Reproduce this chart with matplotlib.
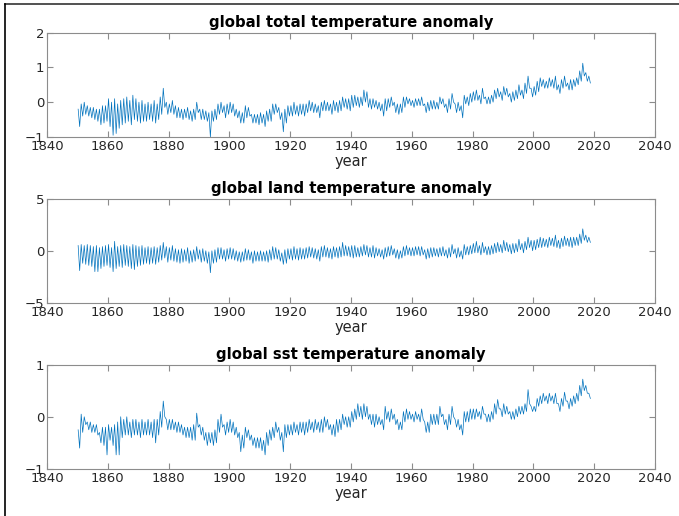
import numpy as np
import matplotlib.pyplot as plt
from matplotlib.lines import Line2D

plt.rcParams['font.family'] = ['DejaVu Sans']

# 年份 1850-2018，每年读取的上沿/下沿数值
years = np.arange(1850, 2019)

total_hi = [-0.2, -0.05, 0.0, -0.1, -0.15, -0.15, -0.2, -0.2, -0.1, -0.1,
            0.1, 0.0, 0.1, -0.05, 0.05, 0.1, 0.15, 0.05, 0.2, 0.1,
            0.0, 0.05, -0.05, 0.0, -0.05, 0.05, -0.05, 0.15, 0.4, 0.0,
            -0.05, 0.05, -0.1, -0.15, -0.2, -0.2, -0.15, -0.25, -0.2, 0.0,
            -0.2, -0.2, -0.25, -0.3, -0.25, -0.2, -0.05, 0.0, -0.1, -0.05,
            0.0, -0.05, -0.2, -0.25, -0.3, -0.1, -0.15, -0.35, -0.35, -0.35,
            -0.3, -0.35, -0.25, -0.2, -0.05, -0.05, -0.15, -0.3, -0.2, -0.1,
            -0.1, 0.0, -0.1, -0.05, -0.05, -0.05, 0.05, 0.0, -0.05, -0.1,
            0.0, 0.05, 0.0, -0.05, 0.05, 0.0, 0.05, 0.15, 0.1, 0.1,
            0.2, 0.2, 0.15, 0.15, 0.35, 0.3, 0.1, 0.1, 0.05, 0.0,
            -0.05, 0.1, 0.1, 0.15, 0.0, -0.05, -0.05, 0.15, 0.15, 0.1,
            0.05, 0.1, 0.1, 0.15, -0.05, 0.0, 0.05, 0.05, 0.0, 0.15,
            0.1, -0.05, 0.1, 0.25, -0.05, 0.0, -0.1, 0.2, 0.15, 0.25,
            0.3, 0.35, 0.2, 0.4, 0.15, 0.15, 0.2, 0.35, 0.4, 0.3,
            0.45, 0.4, 0.25, 0.3, 0.35, 0.5, 0.35, 0.55, 0.75, 0.4,
            0.45, 0.6, 0.7, 0.65, 0.6, 0.7, 0.65, 0.75, 0.5, 0.65,
            0.75, 0.55, 0.65, 0.65, 0.7, 0.9, 1.12, 0.85, 0.75]
total_lo = [-0.7, -0.4, -0.35, -0.4, -0.45, -0.5, -0.55, -0.65, -0.6, -0.55,
            -0.7, -0.95, -0.9, -0.75, -0.65, -0.6, -0.55, -0.65, -0.5, -0.55,
            -0.6, -0.55, -0.55, -0.5, -0.55, -0.6, -0.5, -0.35, -0.15, -0.35,
            -0.3, -0.35, -0.45, -0.45, -0.5, -0.45, -0.5, -0.55, -0.5, -0.3,
            -0.5, -0.5, -0.55, -1.0, -0.55, -0.5, -0.35, -0.3, -0.45, -0.35,
            -0.3, -0.4, -0.45, -0.6, -0.6, -0.45, -0.4, -0.6, -0.6, -0.65,
            -0.6, -0.7, -0.55, -0.55, -0.35, -0.3, -0.5, -0.85, -0.6, -0.4,
            -0.4, -0.35, -0.4, -0.35, -0.4, -0.3, -0.25, -0.3, -0.3, -0.45,
            -0.25, -0.25, -0.25, -0.35, -0.25, -0.3, -0.25, -0.15, -0.2, -0.25,
            -0.15, -0.1, -0.15, -0.1, 0.0, -0.15, -0.2, -0.15, -0.2, -0.25,
            -0.4, -0.25, -0.15, -0.1, -0.3, -0.35, -0.3, -0.15, -0.05, -0.1,
            -0.15, -0.1, -0.1, -0.1, -0.3, -0.25, -0.2, -0.2, -0.2, -0.05,
            -0.15, -0.3, -0.2, 0.0, -0.3, -0.25, -0.45, -0.05, -0.1, 0.0,
            0.05, 0.05, -0.05, 0.1, -0.05, -0.05, 0.0, 0.1, 0.15, 0.05,
            0.2, 0.15, 0.0, 0.05, 0.1, 0.2, 0.1, 0.25, 0.4, 0.15,
            0.2, 0.3, 0.45, 0.4, 0.4, 0.45, 0.4, 0.35, 0.25, 0.4,
            0.45, 0.35, 0.35, 0.45, 0.5, 0.6, 0.75, 0.6, 0.55]

land_hi = [0.5, 0.6, 0.5, 0.6, 0.5, 0.4, 0.5, 0.3, 0.4, 0.5,
           0.6, 0.3, 0.9, 0.4, 0.5, 0.6, 0.5, 0.4, 0.6, 0.5,
           0.4, 0.5, 0.3, 0.4, 0.3, 0.4, 0.3, 0.5, 0.8, 0.4,
           0.3, 0.5, 0.2, 0.1, 0.2, 0.1, 0.3, 0.0, 0.1, 0.4,
           0.1, 0.2, 0.0, -0.1, 0.0, 0.1, 0.3, 0.3, 0.1, 0.2,
           0.3, 0.2, 0.0, -0.1, -0.1, 0.2, 0.1, -0.1, 0.0, -0.1,
           0.0, -0.1, 0.0, 0.1, 0.4, 0.3, 0.1, -0.2, 0.1, 0.2,
           0.2, 0.4, 0.2, 0.3, 0.2, 0.3, 0.4, 0.3, 0.2, 0.1,
           0.4, 0.5, 0.3, 0.2, 0.4, 0.3, 0.4, 0.8, 0.5, 0.4,
           0.5, 0.5, 0.3, 0.4, 0.6, 0.5, 0.3, 0.5, 0.3, 0.2,
           0.1, 0.3, 0.4, 0.5, 0.2, 0.1, 0.0, 0.4, 0.5, 0.3,
           0.3, 0.4, 0.4, 0.4, 0.1, 0.2, 0.3, 0.3, 0.2, 0.3,
           0.4, 0.1, 0.3, 0.6, 0.2, 0.3, 0.0, 0.6, 0.4, 0.5,
           0.7, 0.9, 0.5, 0.8, 0.4, 0.4, 0.5, 0.7, 0.8, 0.6,
           1.0, 0.8, 0.6, 0.7, 0.7, 1.1, 0.7, 0.9, 1.3, 1.0,
           1.0, 1.1, 1.3, 1.2, 1.1, 1.3, 1.2, 1.5, 1.0, 1.2,
           1.4, 1.2, 1.3, 1.3, 1.3, 1.6, 2.1, 1.5, 1.3]
land_lo = [-1.9, -1.2, -1.3, -1.4, -1.5, -2.0, -2.0, -1.7, -1.5, -1.4,
           -1.6, -2.0, -1.7, -1.5, -1.6, -1.4, -1.5, -1.7, -1.8, -1.5,
           -1.4, -1.3, -1.2, -1.3, -1.2, -1.3, -1.1, -0.9, -0.7, -1.1,
           -0.9, -1.0, -1.1, -1.2, -1.1, -1.0, -1.2, -1.1, -1.0, -0.8,
           -1.1, -1.0, -1.2, -2.1, -1.2, -1.1, -0.8, -0.8, -1.0, -0.8,
           -0.8, -0.9, -1.0, -1.1, -1.0, -0.9, -0.9, -1.2, -1.0, -1.0,
           -1.0, -1.0, -1.1, -0.9, -0.8, -0.8, -1.0, -1.3, -1.2, -0.8,
           -0.9, -0.8, -0.9, -0.8, -0.8, -0.7, -0.6, -0.7, -0.8, -1.0,
           -0.6, -0.6, -0.7, -0.8, -0.6, -0.7, -0.6, -0.5, -0.5, -0.6,
           -0.7, -0.6, -0.6, -0.5, -0.4, -0.6, -0.6, -0.7, -0.5, -0.6,
           -0.8, -0.6, -0.5, -0.4, -0.7, -0.8, -0.7, -0.5, -0.4, -0.5,
           -0.5, -0.4, -0.5, -0.4, -0.8, -0.7, -0.6, -0.5, -0.6, -0.5,
           -0.5, -0.7, -0.6, -0.3, -0.7, -0.6, -0.8, -0.4, -0.4, -0.3,
           -0.2, -0.2, -0.4, -0.2, -0.4, -0.4, -0.3, -0.2, -0.1, -0.2,
           0.0, -0.1, -0.3, -0.2, -0.1, 0.1, -0.2, 0.1, 0.3, 0.0,
           0.1, 0.3, 0.3, 0.4, 0.3, 0.5, 0.4, 0.3, 0.2, 0.4,
           0.5, 0.4, 0.3, 0.5, 0.5, 0.7, 1.0, 0.8, 0.8]

sst_hi = [-0.25, 0.05, 0.0, -0.1, -0.1, -0.15, -0.15, -0.3, -0.2, -0.2,
          -0.15, -0.2, -0.15, -0.1, 0.0, -0.05, 0.0, -0.1, -0.05, -0.05,
          -0.1, -0.05, -0.1, -0.05, -0.1, -0.05, -0.05, 0.1, 0.3, -0.05,
          -0.05, -0.05, -0.1, -0.1, -0.15, -0.2, -0.2, -0.2, -0.15, 0.07,
          -0.15, -0.2, -0.3, -0.3, -0.3, -0.25, -0.05, 0.05, -0.15, -0.1,
          -0.05, -0.1, -0.2, -0.3, -0.35, -0.2, -0.25, -0.35, -0.4, -0.4,
          -0.4, -0.45, -0.3, -0.25, -0.2, -0.1, -0.2, -0.3, -0.15, -0.15,
          -0.15, -0.1, -0.15, -0.1, -0.1, -0.1, -0.05, -0.1, -0.05, -0.1,
          -0.05, 0.0, -0.05, -0.15, -0.15, -0.05, -0.05, 0.05, 0.0, 0.0,
          0.1, 0.15, 0.25, 0.2, 0.25, 0.2, 0.05, 0.05, 0.05, 0.0,
          -0.05, 0.2, 0.1, 0.15, 0.05, -0.05, -0.1, 0.1, 0.15, 0.1,
          0.05, 0.1, 0.05, 0.15, -0.1, -0.1, 0.05, 0.05, 0.05, 0.2,
          0.05, -0.05, 0.05, 0.2, -0.05, -0.05, -0.15, 0.1, 0.1, 0.15,
          0.15, 0.15, 0.1, 0.2, 0.05, 0.05, 0.1, 0.25, 0.33, 0.15,
          0.25, 0.2, 0.1, 0.1, 0.15, 0.2, 0.2, 0.25, 0.52, 0.2,
          0.2, 0.35, 0.4, 0.45, 0.4, 0.45, 0.4, 0.45, 0.25, 0.35,
          0.47, 0.3, 0.35, 0.4, 0.45, 0.6, 0.72, 0.6, 0.45]
sst_lo = [-0.6, -0.3, -0.15, -0.25, -0.3, -0.3, -0.35, -0.5, -0.55, -0.73,
          -0.45, -0.55, -0.73, -0.73, -0.4, -0.35, -0.35, -0.4, -0.35, -0.35,
          -0.4, -0.35, -0.35, -0.35, -0.4, -0.5, -0.35, -0.2, 0.0, -0.25,
          -0.25, -0.25, -0.3, -0.3, -0.35, -0.4, -0.4, -0.45, -0.45, -0.2,
          -0.35, -0.45, -0.55, -0.5, -0.55, -0.5, -0.3, -0.2, -0.35, -0.3,
          -0.3, -0.35, -0.4, -0.67, -0.6, -0.4, -0.45, -0.55, -0.6, -0.6,
          -0.65, -0.73, -0.55, -0.45, -0.4, -0.3, -0.45, -0.67, -0.4, -0.35,
          -0.35, -0.3, -0.35, -0.3, -0.35, -0.3, -0.25, -0.3, -0.25, -0.3,
          -0.3, -0.2, -0.25, -0.35, -0.38, -0.3, -0.25, -0.15, -0.2, -0.2,
          -0.1, -0.05, 0.0, -0.05, 0.0, -0.05, -0.15, -0.2, -0.15, -0.15,
          -0.25, -0.05, -0.1, -0.05, -0.15, -0.25, -0.25, -0.1, -0.05, -0.05,
          -0.1, -0.05, -0.1, -0.05, -0.3, -0.3, -0.15, -0.15, -0.15, 0.0,
          -0.15, -0.25, -0.15, 0.0, -0.2, -0.25, -0.35, -0.1, -0.1, -0.05,
          -0.05, 0.0, -0.05, 0.05, -0.1, -0.1, -0.05, 0.05, 0.15, 0.0,
          0.05, 0.05, -0.05, -0.05, 0.0, 0.05, 0.05, 0.1, 0.25, 0.1,
          0.1, 0.2, 0.25, 0.3, 0.25, 0.3, 0.25, 0.25, 0.1, 0.2,
          0.3, 0.15, 0.2, 0.25, 0.3, 0.4, 0.5, 0.45, 0.35]

titles = ['global total temperature anomaly',
          'global land temperature anomaly',
          'global sst temperature anomaly']
ylims = [(-1, 2), (-5, 5), (-1, 1)]
yticks = [[-1, 0, 1, 2], [-5, 0, 5], [-1, 0, 1]]
series = [(total_hi, total_lo), (land_hi, land_lo), (sst_hi, sst_lo)]
xticks = np.arange(1840, 2041, 20)

line_color = '#0072BD'
label_color = '#262626'
box_color = '#8c8c8c'

fig = plt.figure(figsize=(6.79, 5.16), dpi=100)

# 边框
fig.add_artist(Line2D([0.0074, 1.0], [0.992, 0.992], color='#333333', lw=1.2))
fig.add_artist(Line2D([0.0074, 0.0074], [0.0, 0.992], color='black', lw=1.2))

bottoms = [0.7345, 0.4128, 0.0911]
for i in range(3):
    ax = fig.add_axes([0.0692, bottoms[i], 0.8954, 0.2025])
    hi, lo = series[i]
    # 把每年的上沿/下沿交替连成一条线
    x = np.column_stack([years + 0.25, years + 0.75]).ravel()
    y = np.column_stack([hi, lo]).ravel()
    ax.plot(x, y, color=line_color, lw=0.5)
    ax.set_xlim(1840, 2040)
    ax.set_ylim(*ylims[i])
    ax.set_xticks(xticks)
    ax.set_yticks(yticks[i])
    ax.tick_params(direction='in', length=4, width=0.8, top=True, right=True,
                   labelsize=9.5, color=box_color, labelcolor=label_color, pad=2)
    for s in ax.spines.values():
        s.set_color(box_color)
        s.set_linewidth(0.8)
    ax.set_title(titles[i], fontsize=10.7, fontweight='bold', pad=4)
    ax.set_xlabel('year', fontsize=10.5, color=label_color, labelpad=1)

fig.savefig('out.png', dpi=100)
